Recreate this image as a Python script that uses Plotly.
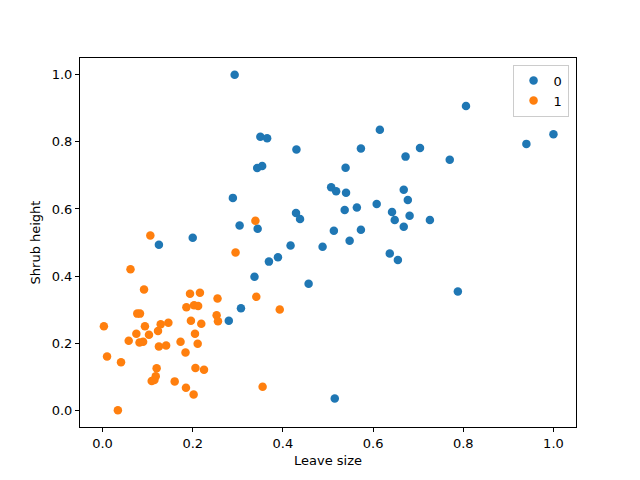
import plotly.graph_objects as go

# class 0 (blue)
x0 = [0.293, 0.350, 0.365, 0.430, 0.615, 0.573, 0.672, 0.343, 0.354, 0.539,
      0.507, 0.668, 0.806, 1.000, 0.940, 0.704, 0.770, 0.518, 0.540, 0.677,
      0.537, 0.564, 0.608, 0.642, 0.648, 0.668, 0.681, 0.429, 0.438, 0.513,
      0.573, 0.548, 0.417, 0.488, 0.389, 0.369, 0.637, 0.655, 0.344, 0.337,
      0.457, 0.726, 0.788, 0.289, 0.304, 0.125, 0.200, 0.307, 0.280, 0.515]
y0 = [1.000, 0.815, 0.811, 0.777, 0.836, 0.780, 0.756, 0.722, 0.728, 0.723,
      0.665, 0.657, 0.907, 0.823, 0.794, 0.782, 0.747, 0.653, 0.648, 0.627,
      0.597, 0.604, 0.615, 0.591, 0.567, 0.547, 0.580, 0.588, 0.570, 0.535,
      0.538, 0.505, 0.491, 0.487, 0.456, 0.443, 0.467, 0.448, 0.541, 0.398,
      0.377, 0.567, 0.354, 0.633, 0.551, 0.493, 0.514, 0.304, 0.267, 0.035]

# class 1 (orange)
x1 = [0.106, 0.295, 0.062, 0.092, 0.194, 0.216, 0.255, 0.186, 0.203, 0.212,
      0.339, 0.341, 0.393, 0.355, 0.077, 0.083, 0.003, 0.094, 0.129, 0.146,
      0.123, 0.075, 0.103, 0.058, 0.082, 0.090, 0.125, 0.141, 0.173, 0.196,
      0.219, 0.205, 0.211, 0.184, 0.253, 0.256, 0.010, 0.041, 0.120, 0.118,
      0.109, 0.115, 0.160, 0.206, 0.225, 0.185, 0.202, 0.034]
y1 = [0.521, 0.470, 0.420, 0.360, 0.347, 0.350, 0.333, 0.307, 0.313, 0.311,
      0.565, 0.338, 0.300, 0.070, 0.288, 0.288, 0.250, 0.250, 0.256, 0.261,
      0.236, 0.228, 0.225, 0.207, 0.202, 0.204, 0.190, 0.193, 0.204, 0.267,
      0.258, 0.228, 0.198, 0.172, 0.283, 0.265, 0.160, 0.143, 0.125, 0.101,
      0.087, 0.090, 0.086, 0.126, 0.121, 0.067, 0.047, 0.000]

labels = ["0", "1"]
colors = ["#1f77b4", "#ff7f0e"]

fig = go.Figure()
for xs, ys, name, c in [(x0, y0, labels[0], colors[0]), (x1, y1, labels[1], colors[1])]:
    fig.add_trace(go.Scatter(x=xs, y=ys, mode="markers", name=name,
                             marker=dict(color=c, size=8.5, line=dict(width=0))))

ticks = [0.0, 0.2, 0.4, 0.6, 0.8, 1.0]
ticktext = ["0.0", "0.2", "0.4", "0.6", "0.8", "1.0"]
axis_common = dict(showgrid=False, zeroline=False, showline=True, linecolor="black",
                   linewidth=1, mirror=True, ticks="outside", ticklen=4, tickwidth=1,
                   tickcolor="black", tickvals=ticks, ticktext=ticktext,
                   tickfont=dict(family="DejaVu Sans", size=13, color="black"))

fig.update_layout(
    width=640, height=480,
    margin=dict(l=80, r=64, t=58, b=53),
    paper_bgcolor="white", plot_bgcolor="white",
    font=dict(family="DejaVu Sans", size=13, color="black"),
    xaxis=dict(range=[-0.05, 1.05], title=dict(text="Leave size", standoff=6,
               font=dict(family="DejaVu Sans", size=13)), **axis_common),
    yaxis=dict(range=[-0.05, 1.05], title=dict(text="Shrub height", standoff=8,
               font=dict(family="DejaVu Sans", size=13)), **axis_common),
    legend=dict(x=0.985, y=0.982, xanchor="right", yanchor="top",
                bordercolor="#cccccc", borderwidth=1, bgcolor="rgba(255,255,255,0.8)",
                font=dict(family="DejaVu Sans", size=13), itemwidth=30,
                tracegroupgap=0),
    showlegend=True,
)

fig.write_html("out.html")
